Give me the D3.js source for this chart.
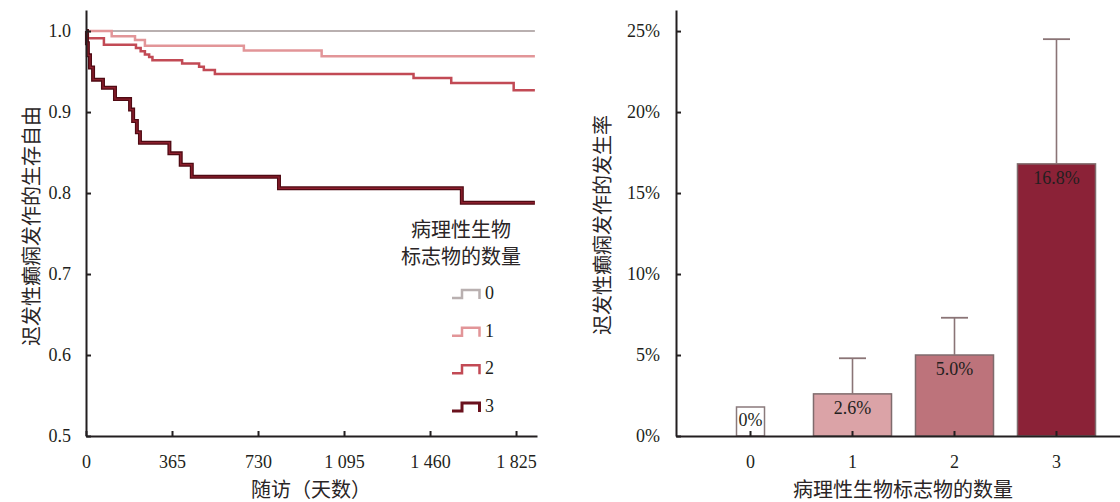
<!DOCTYPE html>
<html>
<head>
<meta charset="utf-8">
<script src="https://cdn.jsdelivr.net/npm/d3@7"></script>
<style>
  html, body { margin: 0; padding: 0; background: #ffffff; }
  svg { display: block; }
  .num { font-family: "Liberation Serif", "DejaVu Serif", serif; fill: #231f20; }
  .cjk { font-family: "Noto Sans CJK SC", sans-serif; font-weight: 400; fill: #2a2526; }
</style>
</head>
<body>
<script>
// ---- Kaplan–Meier curves: freedom from late seizures by number of abnormal biomarkers ----
const groupNames = ["0", "1", "2", "3"];
const groupColors = ["#b9b0b0", "#e29598", "#c24a55", "#6a111d"];

const days0 = [0, 1905];
const surv0 = [1.0, 1.0];

const days1 = [0, 109, 208, 250, 670, 1000, 1905];
const surv1 = [1.0, 0.9935, 0.989, 0.982, 0.976, 0.969, 0.969];

const days2 = [0, 3, 8, 76, 212, 232, 250, 268, 282, 408, 480, 500, 547, 1390, 1550, 1815, 1905];
const surv2 = [1.0, 0.996, 0.991, 0.983, 0.979, 0.975, 0.971, 0.968, 0.964, 0.960, 0.956, 0.952, 0.947, 0.942, 0.936, 0.927, 0.927];

const days3 = [0, 4, 8, 17, 30, 72, 123, 187, 200, 216, 229, 354, 402, 449, 819, 1595, 1905];
const surv3 = [1.0, 0.985, 0.97, 0.955, 0.94, 0.93, 0.916, 0.903, 0.889, 0.875, 0.862, 0.849, 0.835, 0.820, 0.806, 0.788, 0.788];

const kmTickValues = [0.5, 0.6, 0.7, 0.8, 0.9, 1.0];
const dayTickValues = [0, 365, 730, 1095, 1460, 1825];
const dayTickLabels = ["0", "365", "730", "1 095", "1 460", "1 825"];

// ---- Incidence of late seizures by number of abnormal biomarkers ----
const biomarkerCounts = ["0", "1", "2", "3"];
const incidence = [0, 2.6, 5.0, 16.8];
const upperCI = [0, 4.8, 7.3, 24.5];
const incidenceLabels = ["0%", "2.6%", "5.0%", "16.8%"];
const barColors = ["#ffffff", "#dba3a7", "#bd737b", "#8b2237"];
const pctTickValues = [0, 5, 10, 15, 20, 25];

const W = 1120, H = 502;
const svg = d3.select("body").append("svg").attr("width", W).attr("height", H);

function styleAxis(g) {
  g.attr("font-family", null).attr("font-size", null);
  g.select(".domain").attr("stroke", "#231f20").attr("stroke-width", 2);
  g.selectAll(".tick line").attr("stroke", "#231f20").attr("stroke-width", 2);
  g.selectAll(".tick text").attr("class", "num").style("font-size", "18px").attr("fill", "#231f20");
}

// ================= Left panel =================
const xL = d3.scaleLinear().domain([0, 1914]).range([86, 537]);
const yL = d3.scaleLinear().domain([0.5, 1.026]).range([436, 10]);

const series = [
  { days: days0, surv: surv0 },
  { days: days1, surv: surv1 },
  { days: days2, surv: surv2 },
  { days: days3, surv: surv3 }
];

const kmLine = d3.line()
  .x(d => xL(d[0]))
  .y(d => yL(d[1]))
  .curve(d3.curveStepAfter);

const curves = svg.append("g");
series.forEach((s, i) => {
  const pts = s.days.map((d, j) => [d, s.surv[j]]);
  if (i === 3) {
    curves.append("path").attr("d", kmLine(pts)).attr("fill", "none")
      .attr("stroke", "#4f0a13").attr("stroke-width", 4);
    curves.append("path").attr("d", kmLine(pts)).attr("fill", "none")
      .attr("stroke", "#8c1f2d").attr("stroke-width", 1.4);
  } else {
    curves.append("path").attr("d", kmLine(pts)).attr("fill", "none")
      .attr("stroke", groupColors[i]).attr("stroke-width", i === 0 ? 2 : 2.5);
  }
});

svg.append("g").attr("transform", "translate(86,0)")
  .call(d3.axisLeft(yL).tickValues(kmTickValues).tickFormat(d3.format(".1f"))
    .tickSize(-5).tickSizeOuter(0).tickPadding(15))
  .call(styleAxis);

svg.append("g").attr("transform", "translate(0,436)")
  .call(d3.axisBottom(xL).tickValues(dayTickValues).tickFormat((d, i) => dayTickLabels[i])
    .tickSize(-5).tickSizeOuter(0).tickPadding(19))
  .call(styleAxis);

svg.append("text").attr("class", "cjk")
  .attr("transform", "translate(30,226) rotate(-90)")
  .attr("text-anchor", "middle").attr("dominant-baseline", "central")
  .style("font-size", "20px").text("迟发性癫痫发作的生存自由");

svg.append("text").attr("class", "cjk")
  .attr("x", 311).attr("y", 497).attr("text-anchor", "middle")
  .style("font-size", "20px").text("随访（天数）");

// legend
const legend = svg.append("g");
legend.append("text").attr("class", "cjk").attr("x", 461).attr("y", 228)
  .attr("text-anchor", "middle").attr("dominant-baseline", "central")
  .style("font-size", "20px").text("病理性生物");
legend.append("text").attr("class", "cjk").attr("x", 461).attr("y", 255)
  .attr("text-anchor", "middle").attr("dominant-baseline", "central")
  .style("font-size", "20px").text("标志物的数量");

const rowY = d3.scalePoint().domain(groupNames).range([293, 406]);
groupNames.forEach((g, i) => {
  const cy = rowY(g);
  legend.append("path")
    .attr("d", `M452,${cy + 5}H462V${cy - 3}H479.5V${cy + 6}`)
    .attr("fill", "none").attr("stroke", groupColors[i])
    .attr("stroke-width", i === 3 ? 3 : 2.5);
  legend.append("text").attr("class", "num").attr("x", 485).attr("y", cy)
    .attr("dominant-baseline", "central").style("font-size", "18px").text(g);
});

// ================= Right panel =================
const xR = d3.scaleBand().domain(biomarkerCounts).range([676, 1131])
  .paddingInner(0.235).paddingOuter(0.348);
const yR = d3.scaleLinear().domain([0, 26.3]).range([436, 10]);

const bars = svg.append("g");
biomarkerCounts.forEach((c, i) => {
  if (incidence[i] > 0) {
    bars.append("rect")
      .attr("x", xR(c)).attr("width", xR.bandwidth())
      .attr("y", yR(incidence[i])).attr("height", yR(0) - yR(incidence[i]))
      .attr("fill", barColors[i]).attr("stroke", "#7f6b6d").attr("stroke-width", 1.5);
  }
});

// error bars (upper confidence limit)
const cx = c => xR(c) + xR.bandwidth() / 2;
biomarkerCounts.forEach((c, i) => {
  if (upperCI[i] > incidence[i]) {
    bars.append("line").attr("x1", cx(c)).attr("x2", cx(c))
      .attr("y1", yR(incidence[i])).attr("y2", yR(upperCI[i]))
      .attr("stroke", "#8a7476").attr("stroke-width", 1.6);
    bars.append("line").attr("x1", cx(c) - 13.5).attr("x2", cx(c) + 13.5)
      .attr("y1", yR(upperCI[i])).attr("y2", yR(upperCI[i]))
      .attr("stroke", "#8a7476").attr("stroke-width", 1.8);
  }
});

// value labels
biomarkerCounts.forEach((c, i) => {
  const y = incidence[i] > 0 ? yR(incidence[i]) + 20 : yR(0) - 10;
  const t = bars.append("text").attr("class", "num")
    .attr("x", cx(c)).attr("y", y).attr("text-anchor", "middle")
    .style("font-size", "18px").text(incidenceLabels[i]);
  if (incidence[i] === 0) {
    const bb = t.node().getBBox();
    bars.insert("rect", "text")
      .attr("x", bb.x - 2).attr("y", yR(0) - 29)
      .attr("width", bb.width + 4).attr("height", 29)
      .attr("fill", "#ffffff").attr("stroke", "#8a7a7c").attr("stroke-width", 1.5);
  }
});

svg.append("g").attr("transform", "translate(676,0)")
  .call(d3.axisLeft(yR).tickValues(pctTickValues).tickFormat(d => d + "%")
    .tickSize(-5).tickSizeOuter(0).tickPadding(16))
  .call(styleAxis);

svg.append("g").attr("transform", "translate(0,436)")
  .call(d3.axisBottom(xR).tickSize(-5).tickSizeOuter(0).tickPadding(19))
  .call(styleAxis);

svg.append("text").attr("class", "cjk")
  .attr("transform", "translate(601,225) rotate(-90)")
  .attr("text-anchor", "middle").attr("dominant-baseline", "central")
  .style("font-size", "20px").text("迟发性癫痫发作的发生率");

svg.append("text").attr("class", "cjk")
  .attr("x", 903).attr("y", 497).attr("text-anchor", "middle")
  .style("font-size", "20px").text("病理性生物标志物的数量");
</script>
</body>
</html>
